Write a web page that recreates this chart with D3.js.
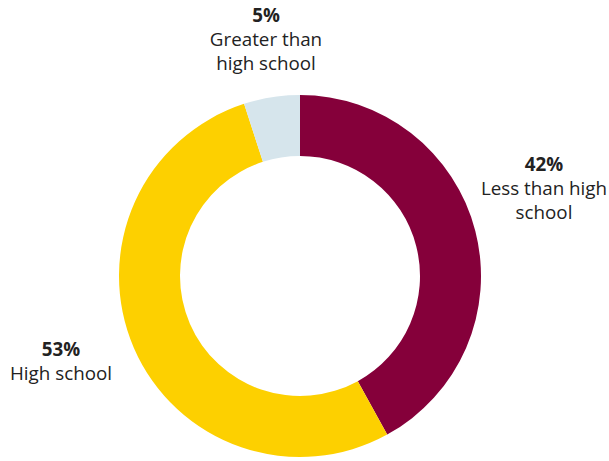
<!DOCTYPE html>
<html><head><meta charset="utf-8">
<script src="https://cdn.jsdelivr.net/npm/d3@7"></script>
<style>html,body{margin:0;padding:0;background:#fff;}</style>
</head><body>
<svg id="c" width="609" height="461"></svg>
<script>
const categories = ["Less than high school", "High school", "Greater than high school"];
const values = [42, 53, 5];
const colors = ["#85003A", "#FDD000", "#D6E5EC"];
const labelLines = [["Less than high", "school"], ["High school"], ["Greater than", "high school"]];

const svg = d3.select("#c");
const cx = 300, cy = 276, rOuter = 181, rInner = 120;
const pie = d3.pie().sort(null).value(d => d)(values);
const arc = d3.arc().innerRadius(rInner).outerRadius(rOuter);
const g = svg.append("g").attr("transform", `translate(${cx},${cy})`);
g.selectAll("path").data(pie).join("path").attr("d", arc).attr("fill", (d, i) => colors[i]);

const labelPos = [[544, 171], [61, 356], [266, 22]];
const font = "'Open Sans', sans-serif";
labelPos.forEach((p, i) => {
  const t = svg.append("text").attr("x", p[0]).attr("y", p[1]).attr("text-anchor", "middle")
    .attr("font-family", font).attr("font-size", 18.8).attr("fill", "#222");
  t.append("tspan").attr("x", p[0]).attr("font-weight", 700).text(values[i] + "%");
  labelLines[i].forEach(l => t.append("tspan").attr("x", p[0]).attr("dy", 24).text(l));
});
</script>
</body></html>
